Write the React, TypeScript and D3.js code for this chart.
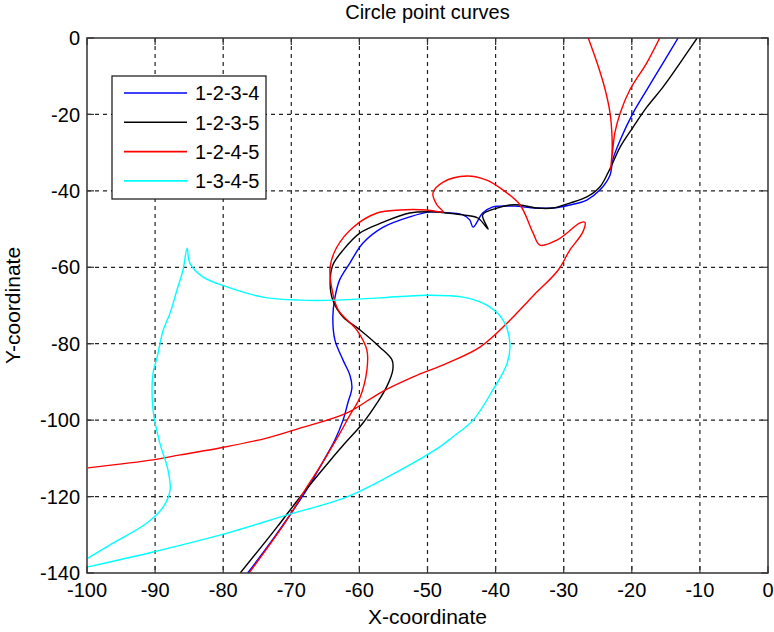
import React from 'react';
import * as d3 from 'd3';

const xTicks = [-100, -90, -80, -70, -60, -50, -40, -30, -20, -10, 0];
const yTicks = [-140, -120, -100, -80, -60, -40, -20, 0];
const seriesNames = ['1-2-3-4', '1-2-3-5', '1-2-4-5', '1-3-4-5'];
const seriesColors = ['#0000ff', '#000000', '#ff0000', '#00ffff'];

// 1-2-3-4 (blue)
const blueX = [-13.2, -15.4, -17.8, -19.8, -21.7, -22.8, -23.2, -24.7, -26.6, -29.1, -31.6, -34.2, -37.2, -39.4, -40.4, -41.9, -43.3, -43.8, -44.8, -46.7, -49.6, -52.6, -56.5, -59.5, -61.4, -62.9, -63.6, -63.9, -63.6, -62.4, -61.4, -61.1, -61.7, -62.4, -63.6, -65.2, -67.5, -70.0, -72.8, -76.4];
const blueY = [0, -6.5, -13.6, -19.6, -26.7, -31.9, -35.9, -39.8, -42.4, -43.7, -44.5, -44.5, -44.0, -44.0, -44.2, -45.8, -49.5, -47.6, -46.3, -45.8, -45.5, -46.8, -49.5, -53.7, -58.9, -63.3, -68.0, -73.0, -79.0, -84.3, -88.2, -91.6, -95.5, -100.0, -105.2, -110.4, -117.5, -124.3, -131.4, -140];

// 1-2-3-5 (black)
const blackX = [-10.4, -12.9, -15.4, -17.8, -19.8, -21.7, -22.8, -23.5, -24.7, -26.6, -29.1, -31.6, -33.9, -36.4, -37.9, -39.8, -41.9, -41.1, -42.6, -44.8, -47.1, -49.2, -52.6, -56.5, -59.9, -62.4, -63.9, -64.3, -63.9, -62.4, -59.9, -57.0, -55.2, -55.1, -56.0, -57.4, -59.5, -62.1, -64.6, -68.7, -72.1, -77.5];
const blackY = [0, -6.5, -12.8, -18.1, -23.3, -28.5, -32.7, -35.3, -39.0, -41.6, -43.2, -44.5, -44.5, -43.7, -43.7, -44.5, -46.3, -50.0, -47.1, -46.3, -45.8, -45.5, -45.8, -48.2, -51.0, -55.5, -59.4, -64.1, -68.6, -73.0, -76.4, -80.9, -84.3, -86.9, -91.3, -95.5, -100.8, -106.0, -111.2, -120.1, -128.0, -140];

// 1-2-4-5 (red), main branch
const redX = [-99.85, -95.2, -90.3, -86.3, -80.5, -73.6, -68.7, -61.8, -57.0, -52.1, -47.1, -42.3, -38.3, -34.5, -30.8, -29.1, -27.2, -26.9, -27.6, -31.0, -33.5, -34.5, -36.4, -38.9, -41.3, -44.2, -47.7, -49.2, -48.6, -47.7, -50.1, -54.0, -57.4, -60.9, -63.3, -64.3, -64.0, -63.1, -60.4, -58.9, -58.9, -59.9, -61.4, -62.85, -64.3, -66.1, -68.0, -70.0, -72.7, -76.2];
const redY = [-112.5, -111.5, -110.4, -109.1, -107.3, -104.7, -102.1, -98.1, -92.9, -88.7, -85.1, -80.9, -74.6, -67.5, -60.7, -55.5, -50.8, -48.2, -48.4, -52.9, -54.2, -51.0, -43.7, -39.8, -37.2, -36.1, -37.7, -40.6, -43.7, -45.5, -45.0, -45.0, -45.8, -49.5, -54.7, -59.9, -66.0, -71.2, -76.4, -81.7, -86.9, -94.0, -98.7, -103.4, -107.8, -113.1, -118.3, -124.3, -131.4, -140];

// 1-2-4-5 (red), cusp branch near the top
const redCuspX = [-15.9, -17.8, -20.3, -21.7, -22.5, -22.8, -23.1, -22.9, -22.9, -23.2, -23.9, -25.1, -26.4];
const redCuspY = [0, -6.5, -13.6, -19.6, -24.9, -29.3, -34.5, -29.8, -25.9, -19.6, -13.6, -6.5, 0];

// 1-3-4-5 (cyan)
const cyanX = [-99.85, -96.2, -91.2, -88.8, -87.8, -88.1, -89.3, -90.3, -90.3, -89.7, -88.8, -87.8, -86.8, -85.9, -85.3, -84.9, -83.0, -79.0, -74.2, -68.7, -63.3, -57.0, -50.1, -44.8, -41.3, -38.9, -37.9, -38.3, -40.4, -43.3, -46.3, -48.2, -54.0, -61.8, -70.6, -80.5, -90.3, -99.85];
const cyanY = [-136.1, -132.2, -126.9, -122.7, -118.3, -113.1, -106.0, -97.4, -87.7, -83.5, -76.4, -72.0, -66.0, -60.7, -55.0, -58.9, -62.5, -65.4, -67.8, -68.6, -68.6, -68.0, -67.3, -67.8, -69.9, -73.8, -79.8, -85.1, -92.1, -100.0, -104.4, -107.0, -113.1, -120.1, -124.8, -130.1, -134.5, -138.4];

const W = 774;
const H = 632;
const L = 87, R = 768, T = 38, B = 573;
const FONT = "'Liberation Sans', Arial, Helvetica, sans-serif";

const zip = (xs: number[], ys: number[]) => xs.map((v, i) => [v, ys[i]] as [number, number]);

export default function App() {
  const x = d3.scaleLinear().domain([-100, 0]).range([L, R]);
  const y = d3.scaleLinear().domain([-140, 0]).range([B, T]);
  const line = d3
    .line<[number, number]>()
    .x((d) => x(d[0]))
    .y((d) => y(d[1]))
    .curve(d3.curveCatmullRom.alpha(0.5));

  const paths = [
    { d: line(zip(blueX, blueY)), c: seriesColors[0] },
    { d: line(zip(blackX, blackY)), c: seriesColors[1] },
    { d: line(zip(redX, redY)), c: seriesColors[2] },
    { d: line(zip(redCuspX, redCuspY)), c: seriesColors[2] },
    { d: line(zip(cyanX, cyanY)), c: seriesColors[3] },
  ];

  const tickLen = 7;
  const gridColor = '#222';
  const dash = '4,4';

  const legX = 112, legY = 76, legW = 154, legH = 123;

  return (
    <svg
      width={W}
      height={H}
      style={{ position: 'absolute', left: 0, top: 0, background: '#fff' }}
      fontFamily={FONT}
    >
      <defs>
        <clipPath id="plotclip">
          <rect x={L} y={T} width={R - L} height={B - T} />
        </clipPath>
      </defs>
      <rect x={0} y={0} width={W} height={H} fill="#fff" />
      {/* grid */}
      {xTicks.slice(1, -1).map((t) => (
        <line key={'gx' + t} x1={x(t)} x2={x(t)} y1={T} y2={B} stroke={gridColor} strokeWidth={1.2} strokeDasharray={dash} />
      ))}
      {yTicks.slice(1, -1).map((t) => (
        <line key={'gy' + t} x1={L} x2={R} y1={y(t)} y2={y(t)} stroke={gridColor} strokeWidth={1.2} strokeDasharray={dash} />
      ))}
      {/* ticks */}
      {xTicks.map((t) => (
        <g key={'tx' + t}>
          <line x1={x(t)} x2={x(t)} y1={B} y2={B - tickLen} stroke="#333" strokeWidth={1.2} />
          <line x1={x(t)} x2={x(t)} y1={T} y2={T + tickLen} stroke="#333" strokeWidth={1.2} />
          <text x={x(t)} y={597} textAnchor="middle" fontSize={20} fill="#000">
            {t}
          </text>
        </g>
      ))}
      {yTicks.map((t) => (
        <g key={'ty' + t}>
          <line x1={L} x2={L + tickLen} y1={y(t)} y2={y(t)} stroke="#333" strokeWidth={1.2} />
          <line x1={R} x2={R - tickLen} y1={y(t)} y2={y(t)} stroke="#333" strokeWidth={1.2} />
          <text x={80} y={y(t)} dy="0.36em" textAnchor="end" fontSize={20} fill="#000">
            {t}
          </text>
        </g>
      ))}
      {/* curves */}
      <g clipPath="url(#plotclip)">
        {paths.map((p, i) => (
          <path key={i} d={p.d || ''} fill="none" stroke={p.c} strokeWidth={1.4} strokeLinejoin="round" />
        ))}
      </g>
      {/* box */}
      <rect x={L} y={T} width={R - L} height={B - T} fill="none" stroke="#333" strokeWidth={1.5} />
      {/* legend */}
      <rect x={legX} y={legY} width={legW} height={legH} fill="#fff" stroke="#111" strokeWidth={1.2} />
      {seriesNames.map((n, i) => {
        const ly = 93 + i * 29.3;
        return (
          <g key={n}>
            <line x1={124} x2={187} y1={ly} y2={ly} stroke={seriesColors[i]} strokeWidth={1.6} />
            <text x={195} y={ly} dy="0.36em" fontSize={20} fill="#000">
              {n}
            </text>
          </g>
        );
      })}
      {/* title & labels */}
      <text x={(L + R) / 2} y={19} textAnchor="middle" fontSize={20} fill="#000">
        Circle point curves
      </text>
      <text x={(L + R) / 2} y={624} textAnchor="middle" fontSize={21} fill="#000">
        X-coordinate
      </text>
      <text transform={`translate(20, ${(T + B) / 2}) rotate(-90)`} textAnchor="middle" fontSize={21} fill="#000">
        Y-coordinate
      </text>
    </svg>
  );
}
